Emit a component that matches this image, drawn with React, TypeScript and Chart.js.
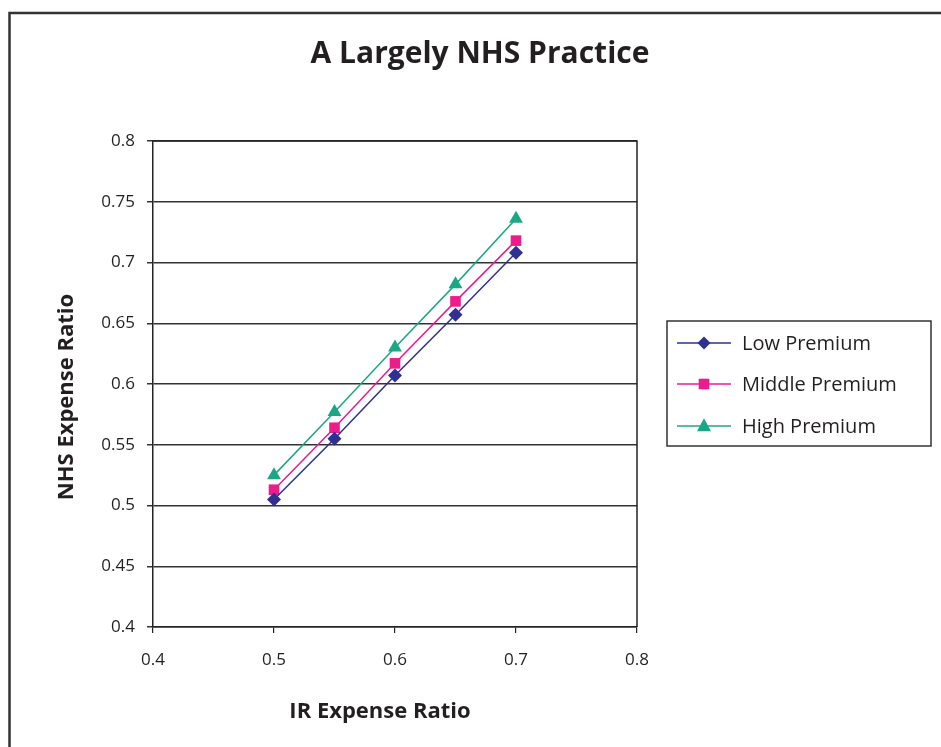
import React, { useEffect, useRef } from "react";
import { Chart, registerables } from "chart.js";

Chart.register(...registerables);

const xValues = [0.5, 0.55, 0.6, 0.65, 0.7];
const lowPremium = [0.505, 0.555, 0.607, 0.657, 0.708];
const middlePremium = [0.513, 0.564, 0.617, 0.668, 0.718];
const highPremium = [0.525, 0.577, 0.630, 0.682, 0.736];
const seriesNames = ["Low Premium", "Middle Premium", "High Premium"];
const seriesColors = ["#2E3192", "#EC1C8C", "#1BA784"];
const chartTitle = "A Largely NHS Practice";
const xTitle = "IR Expense Ratio";
const yTitle = "NHS Expense Ratio";

const FONT = "'Open Sans', 'Noto Sans', sans-serif";

const fmt = (v: number) => String(Number(Number(v).toFixed(2)));

function drawMarker(ctx: CanvasRenderingContext2D, style: string, x: number, y: number, color: string) {
  ctx.save();
  ctx.fillStyle = color;
  ctx.beginPath();
  if (style === "rectRot") {
    const r = 6.5;
    ctx.moveTo(x, y - r);
    ctx.lineTo(x + r, y);
    ctx.lineTo(x, y + r);
    ctx.lineTo(x - r, y);
  } else if (style === "rect") {
    const s = 5.3;
    ctx.rect(x - s, y - s, 2 * s, 2 * s);
  } else {
    const w = 7, h = 13;
    ctx.moveTo(x, y - h * 0.6);
    ctx.lineTo(x + w, y + h * 0.4);
    ctx.lineTo(x - w, y + h * 0.4);
  }
  ctx.closePath();
  ctx.fill();
  ctx.restore();
}

const decorPlugin = {
  id: "decor",
  beforeDraw(chart: any) {
    const ctx = chart.ctx;
    ctx.save();
    ctx.fillStyle = "#ffffff";
    ctx.fillRect(0, 0, chart.width, chart.height);
    ctx.strokeStyle = "#333333";
    ctx.lineWidth = 2.5;
    ctx.strokeRect(9.5, 13, 1100, 1100);
    ctx.restore();
  },
  afterDraw(chart: any) {
    const ctx = chart.ctx;
    const a = chart.chartArea;
    ctx.save();
    ctx.strokeStyle = "#222222";
    ctx.lineWidth = 1.5;
    ctx.beginPath();
    ctx.moveTo(a.left, a.top);
    ctx.lineTo(a.right, a.top);
    ctx.lineTo(a.right, a.bottom);
    ctx.stroke();

    ctx.fillStyle = "#231f20";
    ctx.textAlign = "center";
    ctx.textBaseline = "middle";
    ctx.font = `bold 30px ${FONT}`;
    ctx.fillText(chartTitle, 480, 54);
    ctx.font = `bold 22px ${FONT}`;
    ctx.fillText(xTitle, 380, 712);
    ctx.save();
    ctx.translate(67, 397);
    ctx.rotate(-Math.PI / 2);
    ctx.fillText(yTitle, 0, 0);
    ctx.restore();

    const lx = 667, ly = 321, lw = 264, lh = 125;
    ctx.strokeStyle = "#333333";
    ctx.lineWidth = 1.5;
    ctx.strokeRect(lx, ly, lw, lh);
    const rows = [343, 384, 426];
    const styles = ["rectRot", "rect", "triangle"];
    ctx.font = `20px ${FONT}`;
    ctx.textAlign = "left";
    rows.forEach((y, i) => {
      ctx.strokeStyle = seriesColors[i];
      ctx.lineWidth = 1.5;
      ctx.beginPath();
      ctx.moveTo(677, y);
      ctx.lineTo(731, y);
      ctx.stroke();
      drawMarker(ctx, styles[i], 704, y, seriesColors[i]);
      ctx.fillStyle = "#231f20";
      ctx.fillText(seriesNames[i], 742, y + 1);
    });
    ctx.restore();
  },
};

export default function App() {
  const ref = useRef<HTMLCanvasElement | null>(null);
  useEffect(() => {
    if (!ref.current) return;
    const series = [lowPremium, middlePremium, highPremium];
    const pointStyles = ["rectRot", "rect", "triangle"];
    const pointRadii = [7, 7.5, 8];
    const chart = new Chart(ref.current, {
      type: "scatter",
      data: {
        datasets: series.map((vals, i) => ({
          label: seriesNames[i],
          data: xValues.map((x, j) => ({ x, y: vals[j] })),
          showLine: true,
          borderColor: seriesColors[i],
          backgroundColor: seriesColors[i],
          borderWidth: 1.5,
          pointStyle: pointStyles[i] as any,
          pointRadius: pointRadii[i],
          pointBorderWidth: 0,
          pointHoverRadius: pointRadii[i],
        })),
      },
      options: {
        animation: false,
        responsive: false,
        devicePixelRatio: 1,
        layout: { padding: { left: 0, right: 304, top: 141, bottom: 0 } },
        plugins: {
          legend: { display: false },
          title: { display: false },
          tooltip: { enabled: false },
        },
        scales: {
          x: {
            type: "linear",
            min: 0.4,
            max: 0.8,
            afterFit: (s: any) => { s.height = 120; },
            afterBuildTicks: (s: any) => {
              s.ticks = [0.4, 0.5, 0.6, 0.7, 0.8].map((v) => ({ value: v }));
            },
            ticks: {
              callback: (v: any) => fmt(v),
              font: { family: FONT, size: 17 },
              color: "#231f20",
              padding: 17,
              maxRotation: 0,
            },
            grid: {
              drawOnChartArea: false,
              drawTicks: true,
              tickLength: 6,
              color: "#222222",
              lineWidth: 1.2,
            },
            border: { display: true, color: "#222222", width: 1.5 },
          },
          y: {
            type: "linear",
            min: 0.4,
            max: 0.8,
            afterFit: (s: any) => { s.width = 153; },
            afterBuildTicks: (s: any) => {
              s.ticks = [0.4, 0.45, 0.5, 0.55, 0.6, 0.65, 0.7, 0.75, 0.8].map((v) => ({ value: v }));
            },
            ticks: {
              callback: (v: any) => fmt(v),
              font: { family: FONT, size: 17 },
              color: "#231f20",
              padding: 12,
            },
            grid: {
              drawOnChartArea: true,
              drawTicks: true,
              tickLength: 6,
              color: "#333333",
              lineWidth: 1.5,
            },
            border: { display: true, color: "#222222", width: 1.5 },
          },
        },
      },
      plugins: [decorPlugin],
    });
    return () => chart.destroy();
  }, []);
  return (
    <div style={{ position: "fixed", left: 0, top: 0, width: 941, height: 747, background: "#fff" }}>
      <canvas ref={ref} width={941} height={747} style={{ width: 941, height: 747, display: "block" }} />
    </div>
  );
}
